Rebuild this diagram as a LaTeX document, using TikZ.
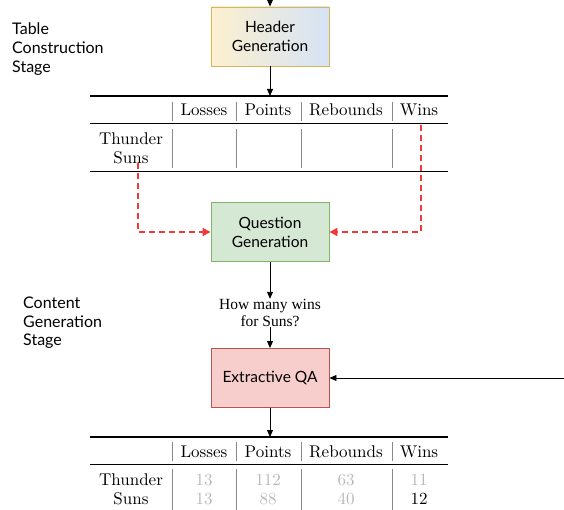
\documentclass[tikz,border=0pt]{standalone}
\usepackage{fontspec}
\newfontfamily\lato{Lato}
\newfontfamily\tnr{Liberation Serif}
\newfontfamily\lmten{lmroman10-regular.otf}
\usetikzlibrary{arrows.meta}
\definecolor{hdrY}{HTML}{FCF0CF}
\definecolor{hdrB}{HTML}{D6E3F5}
\definecolor{hdrD}{HTML}{D6B656}
\definecolor{qgF}{HTML}{D5E8D4}
\definecolor{qgD}{HTML}{82B366}
\definecolor{eqF}{HTML}{F8CECC}
\definecolor{eqD}{HTML}{B85450}
\definecolor{redd}{HTML}{F03A3A}
\definecolor{sepg}{HTML}{8A8A8A}
\definecolor{valg}{HTML}{B8B8B8}
\tikzset{
  box/.style={draw, line width=0.9pt, minimum width=118pt, minimum height=59pt, inner sep=0pt,
    font=\lato\fontsize{15.5}{19}\selectfont, align=center},
  arr/.style={-{Triangle[length=7pt,width=6pt]}, line width=0.9pt},
  redarr/.style={-{Triangle[length=8pt,width=8pt]}, line width=1.8pt, redd, dash pattern=on 6pt off 4pt},
  rule/.style={line width=1.3pt},
  midrule/.style={line width=0.8pt},
  sep/.style={sepg, line width=0.9pt},
  tt/.style={anchor=base, inner sep=0pt, font=\lmten\fontsize{17}{19}\selectfont},
  vt/.style={tt, valg},
  lab/.style={anchor=north west, inner sep=0pt, align=left, font=\lato\fontsize{16}{18.8}\selectfont},
}
\begin{document}
\begin{tikzpicture}[x=1pt,y=-1pt]
\useasboundingbox (0,0) rectangle (564,510);
% stage labels
\node[lab] (l1) at (12,22.5) {Table\\Construction\\Stage};
\node[lab] (l2) at (23,296.5) {Content\\Generation\\Stage};
% boxes
\coordinate (top) at (270,0);
\node[box, draw=hdrD, left color=hdrY, right color=hdrB] (hg) at (270,36.5) {Header\\Generation};
\node[box, draw=qgD, fill=qgF] (qg) at (270,232) {Question\\Generation};
\node[box, draw=eqD, fill=eqF] (eq) at (270,378) {Extractive QA};
\node[inner sep=0pt, align=center, font=\tnr\fontsize{15.5}{17.5}\selectfont] (q) at (270,313) {How many wins\\for Suns?};
\coordinate (rin) at (564,378);
% table 1
\coordinate (t1top) at (270,96);
\draw[rule] (90,96) -- (448,96);
\draw[midrule] (90,123.5) -- (448,123.5);
\draw[rule] (90,171.5) -- (448,171.5);
\foreach \x in {172,236,301,392}{
  \draw[sep] (\x,102) -- (\x,121);
  \draw[sep] (\x,129) -- (\x,168);
}
\node[tt] (h1a) at (204,116) {Losses};
\node[tt] (h1b) at (268,116) {Points};
\node[tt] (h1c) at (346,116) {Rebounds};
\node[tt] (h1d) at (419,116) {Wins};
\node[tt] (r1a) at (131,144.5) {Thunder};
\node[tt] (r1b) at (131,164) {Suns};
% table 2
\coordinate (t2top) at (270,437);
\draw[rule] (90,437) -- (448,437);
\draw[midrule] (90,464.5) -- (448,464.5);
\foreach \x in {172,236,301,392}{
  \draw[sep] (\x,442) -- (\x,461);
  \draw[sep] (\x,469) -- (\x,510);
}
\node[tt] (h2a) at (204,457) {Losses};
\node[tt] (h2b) at (268,457) {Points};
\node[tt] (h2c) at (346,457) {Rebounds};
\node[tt] (h2d) at (419,457) {Wins};
\node[tt] (r2a) at (131,485) {Thunder};
\node[tt] (r2b) at (131,504) {Suns};
\node[vt] (v1) at (204,485) {13};
\node[vt] (v2) at (268,485) {112};
\node[vt] (v3) at (346,485) {63};
\node[vt] (v4) at (419,485) {11};
\node[vt] (v5) at (204,504) {13};
\node[vt] (v6) at (268,504) {88};
\node[vt] (v7) at (346,504) {40};
\node[tt] (v8) at (419,504) {12};
% arrows
\draw[arr] (top) -- (hg.north);
\draw[arr] (hg.south) -- (t1top);
\draw[arr] (qg.south) -- (q.north);
\draw[arr] (q.south) -- (eq.north);
\draw[arr] (rin) -- (eq.east);
\draw[arr] (eq.south) -- (t2top);
% red dashed
\coordinate (ls) at (138,163);
\coordinate (rs) at (421,125);
\draw[redarr] (ls) |- (qg.west);
\draw[redarr] (rs) |- (qg.east);
\end{tikzpicture}
\end{document}
